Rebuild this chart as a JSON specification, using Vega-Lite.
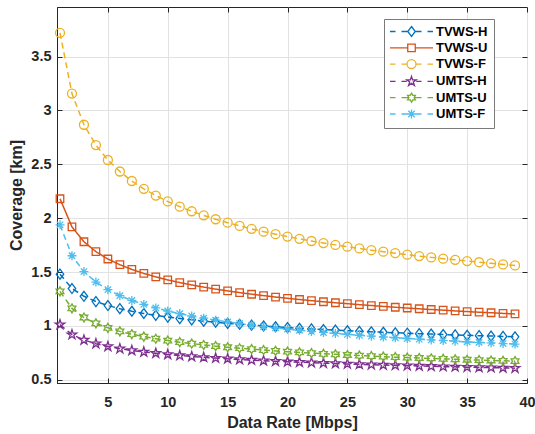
{
  "$schema": "https://vega.github.io/schema/vega-lite/v6.json",
  "width": 470,
  "height": 376,
  "autosize": {"type": "none"},
  "padding": {"left": 57, "top": 7, "right": 8, "bottom": 51},
  "background": "white",
  "config": {
    "font": "Liberation Sans",
    "view": {"stroke": "#262626", "strokeWidth": 1},
    "axis": {
      "domainColor": "#262626",
      "tickColor": "#262626",
      "labelColor": "#262626",
      "titleColor": "#262626",
      "labelFont": "Liberation Sans",
      "labelFontWeight": "bold",
      "labelFontSize": 14.5,
      "titleFont": "Liberation Sans",
      "titleFontWeight": "bold",
      "titleFontSize": 16,
      "gridColor": "#e2e2e2",
      "gridWidth": 1,
      "labelFlush": false,
      "labelOverlap": false
    }
  },
  "data": {
    "values": [
      {"x": 1, "TVWS-H": 1.480, "TVWS-U": 2.180, "TVWS-F": 3.720, "UMTS-H": 1.012, "UMTS-U": 1.320, "UMTS-F": 1.938},
      {"x": 2, "TVWS-H": 1.347, "TVWS-U": 1.919, "TVWS-F": 3.156, "UMTS-H": 0.919, "UMTS-U": 1.162, "UMTS-F": 1.651},
      {"x": 3, "TVWS-H": 1.275, "TVWS-U": 1.781, "TVWS-F": 2.867, "UMTS-H": 0.869, "UMTS-U": 1.078, "UMTS-F": 1.504},
      {"x": 4, "TVWS-H": 1.226, "TVWS-U": 1.689, "TVWS-F": 2.678, "UMTS-H": 0.835, "UMTS-U": 1.023, "UMTS-F": 1.407},
      {"x": 5, "TVWS-H": 1.189, "TVWS-U": 1.621, "TVWS-F": 2.540, "UMTS-H": 0.809, "UMTS-U": 0.982, "UMTS-F": 1.336},
      {"x": 6, "TVWS-H": 1.160, "TVWS-U": 1.568, "TVWS-F": 2.433, "UMTS-H": 0.789, "UMTS-U": 0.949, "UMTS-F": 1.281},
      {"x": 7, "TVWS-H": 1.136, "TVWS-U": 1.524, "TVWS-F": 2.345, "UMTS-H": 0.772, "UMTS-U": 0.923, "UMTS-F": 1.236},
      {"x": 8, "TVWS-H": 1.115, "TVWS-U": 1.487, "TVWS-F": 2.272, "UMTS-H": 0.758, "UMTS-U": 0.900, "UMTS-F": 1.199},
      {"x": 9, "TVWS-H": 1.098, "TVWS-U": 1.455, "TVWS-F": 2.210, "UMTS-H": 0.746, "UMTS-U": 0.881, "UMTS-F": 1.167},
      {"x": 10, "TVWS-H": 1.082, "TVWS-U": 1.427, "TVWS-F": 2.155, "UMTS-H": 0.735, "UMTS-U": 0.864, "UMTS-F": 1.138},
      {"x": 11, "TVWS-H": 1.068, "TVWS-U": 1.402, "TVWS-F": 2.107, "UMTS-H": 0.725, "UMTS-U": 0.849, "UMTS-F": 1.114},
      {"x": 12, "TVWS-H": 1.056, "TVWS-U": 1.380, "TVWS-F": 2.064, "UMTS-H": 0.716, "UMTS-U": 0.836, "UMTS-F": 1.092},
      {"x": 13, "TVWS-H": 1.044, "TVWS-U": 1.360, "TVWS-F": 2.026, "UMTS-H": 0.708, "UMTS-U": 0.823, "UMTS-F": 1.072},
      {"x": 14, "TVWS-H": 1.034, "TVWS-U": 1.341, "TVWS-F": 1.990, "UMTS-H": 0.701, "UMTS-U": 0.812, "UMTS-F": 1.053},
      {"x": 15, "TVWS-H": 1.024, "TVWS-U": 1.325, "TVWS-F": 1.958, "UMTS-H": 0.695, "UMTS-U": 0.802, "UMTS-F": 1.037},
      {"x": 16, "TVWS-H": 1.015, "TVWS-U": 1.309, "TVWS-F": 1.928, "UMTS-H": 0.688, "UMTS-U": 0.793, "UMTS-F": 1.021},
      {"x": 17, "TVWS-H": 1.007, "TVWS-U": 1.294, "TVWS-F": 1.901, "UMTS-H": 0.683, "UMTS-U": 0.784, "UMTS-F": 1.007},
      {"x": 18, "TVWS-H": 0.999, "TVWS-U": 1.281, "TVWS-F": 1.875, "UMTS-H": 0.677, "UMTS-U": 0.776, "UMTS-F": 0.994},
      {"x": 19, "TVWS-H": 0.992, "TVWS-U": 1.268, "TVWS-F": 1.851, "UMTS-H": 0.672, "UMTS-U": 0.768, "UMTS-F": 0.982},
      {"x": 20, "TVWS-H": 0.985, "TVWS-U": 1.256, "TVWS-F": 1.829, "UMTS-H": 0.667, "UMTS-U": 0.761, "UMTS-F": 0.970},
      {"x": 21, "TVWS-H": 0.978, "TVWS-U": 1.245, "TVWS-F": 1.808, "UMTS-H": 0.663, "UMTS-U": 0.754, "UMTS-F": 0.959},
      {"x": 22, "TVWS-H": 0.972, "TVWS-U": 1.234, "TVWS-F": 1.788, "UMTS-H": 0.659, "UMTS-U": 0.747, "UMTS-F": 0.949},
      {"x": 23, "TVWS-H": 0.966, "TVWS-U": 1.224, "TVWS-F": 1.769, "UMTS-H": 0.654, "UMTS-U": 0.741, "UMTS-F": 0.939},
      {"x": 24, "TVWS-H": 0.961, "TVWS-U": 1.215, "TVWS-F": 1.752, "UMTS-H": 0.651, "UMTS-U": 0.736, "UMTS-F": 0.930},
      {"x": 25, "TVWS-H": 0.955, "TVWS-U": 1.206, "TVWS-F": 1.735, "UMTS-H": 0.647, "UMTS-U": 0.730, "UMTS-F": 0.921},
      {"x": 26, "TVWS-H": 0.950, "TVWS-U": 1.197, "TVWS-F": 1.719, "UMTS-H": 0.643, "UMTS-U": 0.725, "UMTS-F": 0.913},
      {"x": 27, "TVWS-H": 0.945, "TVWS-U": 1.189, "TVWS-F": 1.703, "UMTS-H": 0.640, "UMTS-U": 0.720, "UMTS-F": 0.905},
      {"x": 28, "TVWS-H": 0.941, "TVWS-U": 1.181, "TVWS-F": 1.689, "UMTS-H": 0.637, "UMTS-U": 0.715, "UMTS-F": 0.897},
      {"x": 29, "TVWS-H": 0.936, "TVWS-U": 1.173, "TVWS-F": 1.675, "UMTS-H": 0.634, "UMTS-U": 0.710, "UMTS-F": 0.890},
      {"x": 30, "TVWS-H": 0.932, "TVWS-U": 1.166, "TVWS-F": 1.661, "UMTS-H": 0.631, "UMTS-U": 0.706, "UMTS-F": 0.883},
      {"x": 31, "TVWS-H": 0.928, "TVWS-U": 1.159, "TVWS-F": 1.648, "UMTS-H": 0.628, "UMTS-U": 0.702, "UMTS-F": 0.877},
      {"x": 32, "TVWS-H": 0.924, "TVWS-U": 1.152, "TVWS-F": 1.636, "UMTS-H": 0.625, "UMTS-U": 0.698, "UMTS-F": 0.870},
      {"x": 33, "TVWS-H": 0.920, "TVWS-U": 1.146, "TVWS-F": 1.624, "UMTS-H": 0.622, "UMTS-U": 0.694, "UMTS-F": 0.864},
      {"x": 34, "TVWS-H": 0.916, "TVWS-U": 1.139, "TVWS-F": 1.613, "UMTS-H": 0.620, "UMTS-U": 0.690, "UMTS-F": 0.858},
      {"x": 35, "TVWS-H": 0.913, "TVWS-U": 1.133, "TVWS-F": 1.602, "UMTS-H": 0.617, "UMTS-U": 0.686, "UMTS-F": 0.852},
      {"x": 36, "TVWS-H": 0.909, "TVWS-U": 1.127, "TVWS-F": 1.591, "UMTS-H": 0.615, "UMTS-U": 0.683, "UMTS-F": 0.847},
      {"x": 37, "TVWS-H": 0.906, "TVWS-U": 1.122, "TVWS-F": 1.581, "UMTS-H": 0.613, "UMTS-U": 0.679, "UMTS-F": 0.842},
      {"x": 38, "TVWS-H": 0.902, "TVWS-U": 1.116, "TVWS-F": 1.571, "UMTS-H": 0.610, "UMTS-U": 0.676, "UMTS-F": 0.836},
      {"x": 39, "TVWS-H": 0.899, "TVWS-U": 1.111, "TVWS-F": 1.561, "UMTS-H": 0.608, "UMTS-U": 0.673, "UMTS-F": 0.831}
    ]
  },
  "transform": [
    {"fold": ["TVWS-H", "TVWS-U", "TVWS-F", "UMTS-H", "UMTS-U", "UMTS-F"], "as": ["series", "y"]}
  ],
  "layer": [
    {
      "mark": {"type": "line", "strokeWidth": 1.5},
      "encoding": {
        "x": {"field": "x", "type": "quantitative", "scale": {"domain": [0.75, 40], "nice": false, "zero": false},
              "axis": {"orient": "bottom", "values": [5, 10, 15, 20, 25, 30, 35, 40], "format": "~g", "title": "Data Rate [Mbps]", "grid": true, "tickSize": -5, "labelPadding": 17, "titlePadding": 6}},
        "y": {"field": "y", "type": "quantitative", "scale": {"domain": [0.47, 3.96], "nice": false, "zero": false},
              "axis": {"orient": "left", "values": [0.5, 1, 1.5, 2, 2.5, 3, 3.5], "format": "~g", "title": "Coverage [km]", "grid": true, "tickSize": -5, "labelPadding": 11, "titlePadding": 6}},
        "color": {"field": "series", "type": "nominal",
                  "scale": {"domain": ["TVWS-H", "TVWS-U", "TVWS-F", "UMTS-H", "UMTS-U", "UMTS-F"], "range": ["#0072BD", "#D95319", "#EDB120", "#7E2F8E", "#77AC30", "#4DBEEE"]},
                  "legend": null},
        "strokeDash": {"field": "series", "type": "nominal",
                       "scale": {"domain": ["TVWS-H", "TVWS-U", "TVWS-F", "UMTS-H", "UMTS-U", "UMTS-F"], "range": [[6, 4], [1, 0], [6, 4], [6, 4], [6, 4], [6, 4]]},
                       "legend": null}
      }
    },
    {
      "mark": {"type": "point", "filled": false, "size": 100, "strokeWidth": 1.3, "opacity": 1},
      "encoding": {
        "x": {"field": "x", "type": "quantitative", "axis": null},
        "y": {"field": "y", "type": "quantitative", "axis": null},
        "color": {"field": "series", "type": "nominal",
                  "scale": {"domain": ["TVWS-H", "TVWS-U", "TVWS-F", "UMTS-H", "UMTS-U", "UMTS-F"], "range": ["#0072BD", "#D95319", "#EDB120", "#7E2F8E", "#77AC30", "#4DBEEE"]},
                  "legend": null},
        "shape": {"field": "series", "type": "nominal",
                  "scale": {"domain": ["TVWS-H", "TVWS-U", "TVWS-F", "UMTS-H", "UMTS-U", "UMTS-F"],
                            "range": [
                              "M0,-1L0.75,0L0,1L-0.75,0Z",
                              "M-0.75,-0.75L0.75,-0.75L0.75,0.75L-0.75,0.75Z",
                              "M0.9,0A0.9,0.9,0,1,1,-0.9,0A0.9,0.9,0,1,1,0.9,0Z",
                              "M0,-1L0.225,-0.309L0.951,-0.309L0.363,0.118L0.588,0.809L0,0.382L-0.588,0.809L-0.363,0.118L-0.951,-0.309L-0.225,-0.309Z",
                              "M0,-0.9L0.26,-0.45L0.78,-0.45L0.52,0L0.78,0.45L0.26,0.45L0,0.9L-0.26,0.45L-0.78,0.45L-0.52,0L-0.78,-0.45L-0.26,-0.45Z",
                              "M-0.9,0L0.9,0M0,-0.9L0,0.9M-0.64,-0.64L0.64,0.64M-0.64,0.64L0.64,-0.64"
                            ]},
                  "legend": null}
      }
    },
    {
      "transform": [{"filter": "false"}],
      "mark": {"type": "point", "filled": false, "size": 100, "strokeWidth": 1.3, "opacity": 1},
      "encoding": {
        "x": {"field": "x", "type": "quantitative",
              "axis": {"orient": "top", "values": [5, 10, 15, 20, 25, 30, 35, 40], "labels": false, "title": null, "grid": false, "domain": false, "tickSize": -5}},
        "y": {"field": "y", "type": "quantitative",
              "axis": {"orient": "right", "values": [0.5, 1, 1.5, 2, 2.5, 3, 3.5], "labels": false, "title": null, "grid": false, "domain": false, "tickSize": -5}},
        "color": {"field": "series", "type": "nominal",
                  "scale": {"domain": ["TVWS-H", "TVWS-U", "TVWS-F", "UMTS-H", "UMTS-U", "UMTS-F"], "range": ["#0072BD", "#D95319", "#EDB120", "#7E2F8E", "#77AC30", "#4DBEEE"]},
                  "legend": {"orient": "none", "legendX": 327, "legendY": 12, "title": null, "padding": 6,
                             "strokeColor": "#7a7a7a", "fillColor": "white", "symbolOffset": 15, "labelOffset": 18, "rowPadding": 1.3,
                             "labelFont": "Liberation Sans", "labelFontWeight": "bold", "labelFontSize": 13, "labelColor": "black",
                             "symbolStrokeWidth": 1.3, "symbolSize": 100, "symbolFillColor": "transparent"}},
        "shape": {"field": "series", "type": "nominal",
                  "scale": {"domain": ["TVWS-H", "TVWS-U", "TVWS-F", "UMTS-H", "UMTS-U", "UMTS-F"],
                            "range": [
                              "M-4.3,0L-3.2,0M-2,0L-0.8,0M0.8,0L2,0M3.2,0L4.3,0M0,-1L0.75,0L0,1L-0.75,0Z",
                              "M-4.3,0L-0.75,0M0.75,0L4.3,0M-0.75,-0.75L0.75,-0.75L0.75,0.75L-0.75,0.75Z",
                              "M-4.3,0L-3.2,0M-2,0L-0.9,0M0.9,0L2,0M3.2,0L4.3,0M0.9,0A0.9,0.9,0,1,1,-0.9,0A0.9,0.9,0,1,1,0.9,0Z",
                              "M-4.3,0L-3.2,0M-2,0L-0.95,0M0.95,0L2,0M3.2,0L4.3,0M0,-1L0.225,-0.309L0.951,-0.309L0.363,0.118L0.588,0.809L0,0.382L-0.588,0.809L-0.363,0.118L-0.951,-0.309L-0.225,-0.309Z",
                              "M-4.3,0L-3.2,0M-2,0L-0.52,0M0.52,0L2,0M3.2,0L4.3,0M0,-0.9L0.26,-0.45L0.78,-0.45L0.52,0L0.78,0.45L0.26,0.45L0,0.9L-0.26,0.45L-0.78,0.45L-0.52,0L-0.78,-0.45L-0.26,-0.45Z",
                              "M-4.3,0L-3.2,0M-2,0L-0.9,0M0.9,0L2,0M3.2,0L4.3,0M-0.9,0L0.9,0M0,-0.9L0,0.9M-0.64,-0.64L0.64,0.64M-0.64,0.64L0.64,-0.64"
                            ]}}
      }
    }
  ],
  "resolve": {
    "scale": {"color": "independent", "shape": "independent"},
    "axis": {"x": "independent", "y": "independent"}
  }
}
